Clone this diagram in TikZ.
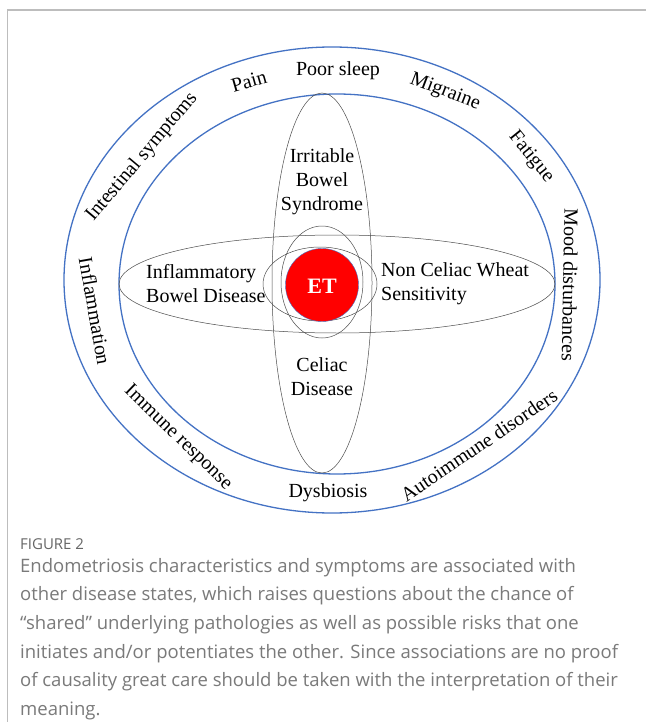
\documentclass[tikz,border=0pt]{standalone}
\usepackage{fontspec}
\setmainfont{Liberation Serif}
\newfontfamily\capfont{Open Sans}
\definecolor{ringblue}{HTML}{4472C4}
\definecolor{capgray}{HTML}{7A7A7A}
\definecolor{figgray}{HTML}{666666}
\definecolor{framegray}{HTML}{BDBDBD}
\begin{document}
\begin{tikzpicture}[x=1pt,y=-1pt,
  ring/.style={draw=ringblue, line width=1.3pt},
  thin/.style={draw=black!70, line width=0.5pt},
  lbl/.style={font=\fontsize{20}{24}\selectfont, inner sep=0pt},
  capt/.style={font=\capfont\fontsize{18.5}{28.6}\selectfont, text=capgray, anchor=north west, align=left, inner sep=0pt}]
\useasboundingbox (0,0) rectangle (646,722);
\fill[white] (0,0) rectangle (646,722);
% frame
\draw[framegray, line width=1.3pt] (7.5,722) -- (7.5,10) -- (646,10);
% rings
\draw[ring] (332,280) ellipse [x radius=268pt, y radius=233pt];
\draw[ring] (337,284) ellipse [x radius=218pt, y radius=190pt];
% disease ellipses
\draw[thin] (322,283) ellipse [x radius=50pt, y radius=190pt];
\draw[thin] (337,284) ellipse [x radius=218pt, y radius=49pt];
\draw[thin] (322,282) ellipse [x radius=41pt, y radius=56pt];
\draw[thin] (320,284) ellipse [x radius=57pt, y radius=37pt];
% ET
\draw[fill=red, draw=ringblue, line width=0.4pt] (322,285) circle [radius=36.5pt];
\node[lbl, text=white, font=\fontsize{22}{24}\selectfont\bfseries] (et) at (322,286) {ET};
% disease labels
\node[lbl, align=center] (ibs) at (322,182) {Irritable\\Bowel\\Syndrome};
\node[lbl, align=center] (cd) at (322,377) {Celiac\\Disease};
\node[lbl, align=left, anchor=west] (ibd) at (146,284) {Inflammatory\\Bowel Disease};
\node[lbl, align=left, anchor=west] (ncws) at (381,284) {Non Celiac Wheat\\Sensitivity};
% ring labels
\node[lbl] (sleep) at (338,71) {Poor sleep};
\node[lbl, rotate=16] (pain) at (249,81) {Pain};
\node[lbl, rotate=-21] (migr) at (445,92) {Migraine};
\node[lbl, rotate=-51] (fat) at (531,157) {Fatigue};
\node[lbl, rotate=-91] (mood) at (570,285) {Mood disturbances};
\node[lbl, rotate=34] (auto) at (479,445) {Autoimmune disorders};
\node[lbl] (dys) at (328,493) {Dysbiosis};
\node[lbl, rotate=-44] (imm) at (178,438) {Immune response};
\node[lbl, rotate=-80] (infl) at (95,311) {Inflammation};
\node[lbl, rotate=50] (int) at (142,157) {Intestinal symptoms};
% caption
\node[capt, font=\capfont\fontsize{15}{16}\selectfont, text=figgray] (fig) at (20,538) {FIGURE 2};
\node[capt] (cap) at (20,558) {Endometriosis characteristics and symptoms are associated with\\
other disease states, which raises questions about the chance of\\
“shared” underlying pathologies as well as possible risks that one\\
initiates and/or potentiates the other. Since associations are no proof\\
of causality great care should be taken with the interpretation of their\\
meaning.};
\end{tikzpicture}
\end{document}
